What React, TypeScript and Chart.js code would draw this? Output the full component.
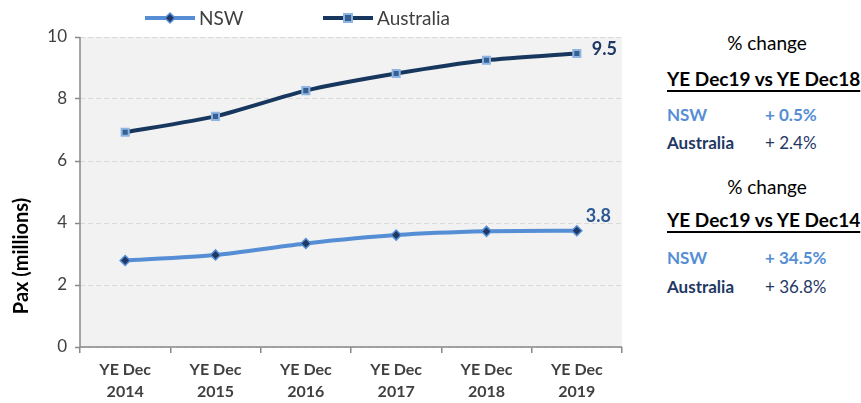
import React, { useEffect, useRef } from "react";
import { Chart, registerables } from "chart.js";

Chart.register(...registerables);

const categories: string[][] = [
  ["YE Dec", "2014"],
  ["YE Dec", "2015"],
  ["YE Dec", "2016"],
  ["YE Dec", "2017"],
  ["YE Dec", "2018"],
  ["YE Dec", "2019"],
];
const nswValues = [2.79, 2.97, 3.34, 3.61, 3.73, 3.75];
const australiaValues = [6.93, 7.44, 8.27, 8.82, 9.25, 9.47];
const seriesNames = ["NSW", "Australia"];
const endLabels = ["3.8", "9.5"];
const yTicks = [0, 2, 4, 6, 8, 10];
const yTitle = "Pax (millions)";

const FONT = "Lato, 'Liberation Sans', sans-serif";
const NSW_LINE = "#558ED5";
const NSW_MARK = "#1F3864";
const AUS_LINE = "#17375E";
const AUS_MARK = "#366092";
const AUS_MARK_BORDER = "#8DB4E2";

const bgPlugin = {
  id: "bgPlugin",
  beforeDraw(chart: any) {
    const { ctx, chartArea } = chart;
    ctx.save();
    ctx.fillStyle = "#F2F2F2";
    ctx.fillRect(chartArea.left, chartArea.top, chartArea.right - chartArea.left, chartArea.bottom - chartArea.top);
    ctx.restore();
  },
  afterDraw(chart: any) {
    const { ctx, chartArea } = chart;
    ctx.save();
    ctx.strokeStyle = "#888888";
    ctx.lineWidth = 1.5;
    ctx.setLineDash([]);
    ctx.beginPath();
    ctx.moveTo(chartArea.left, chartArea.top);
    ctx.lineTo(chartArea.left, chartArea.bottom);
    ctx.lineTo(chartArea.right, chartArea.bottom);
    ctx.stroke();
    ctx.translate(22, 256);
    ctx.rotate(-Math.PI / 2);
    ctx.font = `bold 20px ${FONT}`;
    ctx.fillStyle = "#000000";
    ctx.textAlign = "center";
    ctx.textBaseline = "middle";
    ctx.fillText(yTitle, 0, 0);
    ctx.restore();
  },
};

const labelPlugin = {
  id: "labelPlugin",
  afterDatasetsDraw(chart: any) {
    const { ctx } = chart;
    ctx.save();
    ctx.font = `bold 18px ${FONT}`;
    ctx.textBaseline = "middle";
    ctx.textAlign = "left";
    const m0 = chart.getDatasetMeta(0).data;
    const p0 = m0[m0.length - 1];
    ctx.fillStyle = "#2E5A96";
    ctx.fillText(endLabels[0], p0.x + 9, p0.y - 15);
    const m1 = chart.getDatasetMeta(1).data;
    const p1 = m1[m1.length - 1];
    ctx.fillStyle = "#1F3864";
    ctx.fillText(endLabels[1], p1.x + 15, p1.y - 4);
    ctx.restore();
  },
};

const legendPlugin = {
  id: "legendPlugin",
  afterDraw(chart: any) {
    const { ctx } = chart;
    ctx.save();
    const y = 18;
    ctx.strokeStyle = NSW_LINE;
    ctx.lineWidth = 4;
    ctx.beginPath();
    ctx.moveTo(145, y);
    ctx.lineTo(195, y);
    ctx.stroke();
    ctx.fillStyle = NSW_MARK;
    ctx.strokeStyle = NSW_LINE;
    ctx.lineWidth = 1.5;
    ctx.beginPath();
    ctx.moveTo(170, y - 5);
    ctx.lineTo(175, y);
    ctx.lineTo(170, y + 5);
    ctx.lineTo(165, y);
    ctx.closePath();
    ctx.fill();
    ctx.stroke();
    ctx.strokeStyle = AUS_LINE;
    ctx.lineWidth = 4;
    ctx.beginPath();
    ctx.moveTo(323, y);
    ctx.lineTo(373, y);
    ctx.stroke();
    ctx.fillStyle = AUS_MARK;
    ctx.strokeStyle = AUS_MARK_BORDER;
    ctx.lineWidth = 2;
    ctx.fillRect(344, y - 4, 8, 8);
    ctx.strokeRect(344, y - 4, 8, 8);
    ctx.font = `19px ${FONT}`;
    ctx.fillStyle = "#404040";
    ctx.textBaseline = "middle";
    ctx.textAlign = "left";
    ctx.fillText(seriesNames[0], 199, y + 1);
    ctx.fillText(seriesNames[1], 377, y + 1);
    ctx.restore();
  },
};

function ChartBox() {
  const ref = useRef<HTMLCanvasElement>(null);
  useEffect(() => {
    document.body.style.margin = "0";
    const chart = new Chart(ref.current as HTMLCanvasElement, {
      type: "line",
      data: {
        labels: categories as any,
        datasets: [
          {
            label: seriesNames[0],
            data: nswValues,
            borderColor: NSW_LINE,
            borderWidth: 4,
            pointStyle: "rectRot",
            pointRadius: 5,
            pointBackgroundColor: NSW_MARK,
            pointBorderColor: NSW_LINE,
            pointBorderWidth: 1.5,
            tension: 0.2,
          },
          {
            label: seriesNames[1],
            data: australiaValues,
            borderColor: AUS_LINE,
            borderWidth: 4,
            pointStyle: "rect",
            pointRadius: 5,
            pointBackgroundColor: AUS_MARK,
            pointBorderColor: AUS_MARK_BORDER,
            pointBorderWidth: 2,
            tension: 0.2,
          },
        ],
      },
      options: {
        responsive: false,
        animation: false,
        layout: { padding: { top: 37, right: 18, left: 0, bottom: 0 } },
        plugins: { legend: { display: false }, tooltip: { enabled: false } },
        scales: {
          x: {
            offset: true,
            grid: { drawOnChartArea: false, drawTicks: true, tickLength: 6, color: "#888888", lineWidth: 1.5, offset: true },
            border: { display: false },
            ticks: {
              font: { family: FONT, size: 16, weight: "bold", lineHeight: 1.35 },
              color: "#404040",
              padding: 6,
              maxRotation: 0,
              autoSkip: false,
            },
            afterFit(scale: any) {
              scale.height = 56;
            },
          },
          y: {
            min: 0,
            max: 10,
            afterBuildTicks(scale: any) {
              scale.ticks = yTicks.map((v) => ({ value: v }));
            },
            grid: {
              drawTicks: true,
              tickLength: 5,
              color: "#D9D9D9",
              lineWidth: 1,
              tickColor: "#888888",
              tickWidth: 1.5,
              tickBorderDash: [],
            },
            border: { display: false, dash: [5, 3] },
            ticks: {
              font: { family: FONT, size: 17 },
              color: "#404040",
              padding: 8,
            },
            afterFit(scale: any) {
              scale.width = 80;
            },
          },
        },
      },
      plugins: [bgPlugin, labelPlugin, legendPlugin],
    } as any);
    return () => chart.destroy();
  }, []);
  return <canvas ref={ref} width={640} height={403} />;
}

const textStyle: React.CSSProperties = { position: "absolute", whiteSpace: "nowrap", fontFamily: FONT, lineHeight: 1 };

export default function App() {
  return (
    <div style={{ position: "relative", width: 861, height: 403, background: "#FFFFFF", overflow: "hidden" }}>
      <div style={{ position: "absolute", left: 0, top: 0 }}>
        <ChartBox />
      </div>
      <div style={{ ...textStyle, left: 667, width: 200, top: 33, fontSize: 19, color: "#000", textAlign: "center" }}>% change</div>
      <div style={{ ...textStyle, left: 667, top: 69, fontSize: 19, fontWeight: "bold", color: "#000", textDecoration: "underline", textDecorationThickness: 2, textUnderlineOffset: 4 }}>YE Dec19 vs YE Dec18</div>
      <div style={{ ...textStyle, left: 667, top: 106, fontSize: 17, fontWeight: "bold", color: "#558ED5" }}>NSW</div>
      <div style={{ ...textStyle, left: 765, top: 106, fontSize: 17, fontWeight: "bold", color: "#558ED5" }}>+ 0.5%</div>
      <div style={{ ...textStyle, left: 667, top: 134, fontSize: 17, fontWeight: "bold", color: "#1F3864" }}>Australia</div>
      <div style={{ ...textStyle, left: 765, top: 134, fontSize: 17, color: "#1F3864" }}>+ 2.4%</div>
      <div style={{ ...textStyle, left: 667, width: 200, top: 177, fontSize: 19, color: "#000", textAlign: "center" }}>% change</div>
      <div style={{ ...textStyle, left: 667, top: 210, fontSize: 19, fontWeight: "bold", color: "#000", textDecoration: "underline", textDecorationThickness: 2, textUnderlineOffset: 4 }}>YE Dec19 vs YE Dec14</div>
      <div style={{ ...textStyle, left: 667, top: 249, fontSize: 17, fontWeight: "bold", color: "#558ED5" }}>NSW</div>
      <div style={{ ...textStyle, left: 765, top: 249, fontSize: 17, fontWeight: "bold", color: "#558ED5" }}>+ 34.5%</div>
      <div style={{ ...textStyle, left: 667, top: 278, fontSize: 17, fontWeight: "bold", color: "#1F3864" }}>Australia</div>
      <div style={{ ...textStyle, left: 765, top: 278, fontSize: 17, color: "#1F3864" }}>+ 36.8%</div>
    </div>
  );
}
